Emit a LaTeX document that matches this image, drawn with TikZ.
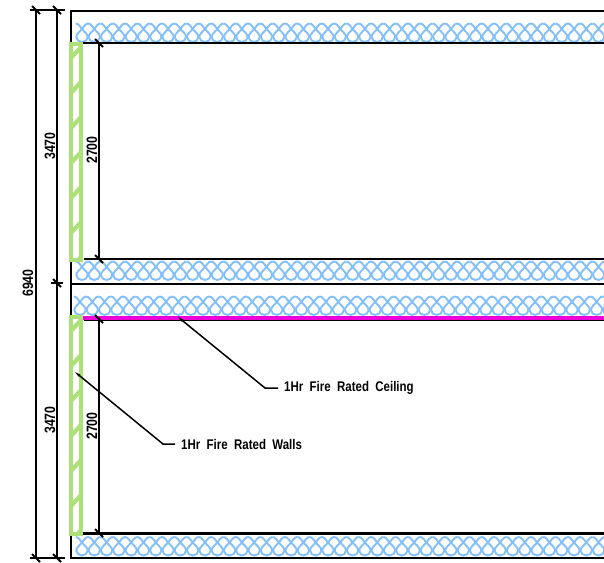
\documentclass[tikz,border=0pt]{standalone}
\usepackage{fontspec}
\setmainfont[FakeStretch=0.82]{Liberation Sans}
\usetikzlibrary{arrows.meta}

\definecolor{wallgreen}{HTML}{AEE07A}
\definecolor{insulblue}{HTML}{82BFFB}
\definecolor{ceilpink}{HTML}{F000D8}

\tikzset{
    frame/.style={black, line width=2pt},
    dimline/.style={black, line width=1.5pt},
    insul/.style={insulblue, line width=1.9pt},
    wall/.style={wallgreen, line width=4.8pt},
    brace/.style={wallgreen, line width=4.2pt},
    dimtext/.style={rotate=90, font=\fontsize{15}{15}\selectfont\bfseries},
    calltext/.style={anchor=west, font=\fontsize{14}{15}\selectfont\bfseries, inner sep=0pt},
    leader/.style={{Stealth[length=6pt,width=2.6pt]}-, black, line width=1.5pt}
}

% one band of insulation, first argument is its top edge
\newcommand{\insulband}[2]{
    \foreach \i in {0,...,43} {
        \draw[insul, shift={(#2+\i*12.3,#1)}]
            (-6.15,0) .. controls (-3.5,0) and (-1.5,3.5) .. (0,5.5)
            .. controls (2,8) and (5.7,10.5) .. (5.7,13.5)
            .. controls (5.7,16.3) and (3,18.5) .. (0,18.5)
            .. controls (-3,18.5) and (-5.7,16.3) .. (-5.7,13.5)
            .. controls (-5.7,10.5) and (-2,8) .. (0,5.5)
            .. controls (1.5,3.5) and (3.5,0) .. (6.15,0);
    }
}

% one stud wall, first argument is its top edge
\newcommand{\studwall}[2]{
    \begin{scope}
        \clip (71,#1) rectangle (81,#2);
        \foreach \i in {0,...,6} {
            \draw[brace] (71,#1+14+\i*35) -- (81,#1+3+\i*35);
        }
    \end{scope}
    \draw[wall] (71,#1) rectangle (81,#2);
}

% tick on a dimension line
\newcommand{\dimtick}[1]{
    \draw[black, line width=1.9pt] ([shift={(-4,-4)}]#1) -- ([shift={(4,4)}]#1);
}

\begin{document}
\begin{tikzpicture}[x=1pt, y=-1pt]
    \useasboundingbox (0,0) rectangle (604,562);
    %\draw[gray, dashed] (0,0) grid (604,562);

    \insulband{23.5}{82}
    \insulband{261.5}{82}
    \insulband{296.5}{80}
    \insulband{537}{82}

    \draw[frame] (604,10.5) -- (70.5,10.5) -- (70.5,43) -- (604,43);
    \draw[frame] (84,259) -- (604,259);
    \draw[frame] (70.5,260) -- (70.5,316);
    \draw[frame] (70.5,283.5) -- (604,283.5);
    \draw[ceilpink, line width=3.6pt] (81,317.8) -- (604,317.8);
    \draw[black, line width=1pt] (84,320.1) -- (604,320.1);
    \draw[black, line width=2.6pt] (83,533.5) -- (604,533.5);
    \draw[frame] (70.5,535) -- (70.5,558) -- (604,558);

    \studwall{44}{260}
    \studwall{317}{534}

    % outer dimensions
    \coordinate (totaltop) at (36,10);
    \coordinate (totalbot) at (36,558);
    \coordinate (uppertop) at (57,10);
    \coordinate (uppermid) at (57,283);
    \coordinate (upperbot) at (57,558);
    \draw[dimline] (totaltop) -- (totalbot);
    \draw[dimline] (uppertop) -- (upperbot);
    \draw[dimline] (30,10) -- (65,10);
    \draw[dimline] (51,283) -- (63,283);
    \draw[dimline] (30,558) -- (65,558);
    \dimtick{totaltop}
    \dimtick{totalbot}
    \dimtick{uppertop}
    \dimtick{uppermid}
    \dimtick{upperbot}

    % inner dimensions
    \coordinate (roomatop) at (99,43);
    \coordinate (roomabot) at (99,259);
    \coordinate (roombtop) at (99,319);
    \coordinate (roombbot) at (99,533);
    \draw[dimline] (roomatop) -- (roomabot);
    \draw[dimline] (roombtop) -- (roombbot);
    \dimtick{roomatop}
    \dimtick{roomabot}
    \dimtick{roombtop}
    \dimtick{roombbot}

    \node[dimtext] (dimtotal) at (28,283) {6940};
    \node[dimtext] (dimupper) at (50,146) {3470};
    \node[dimtext] (dimlower) at (50,420) {3470};
    \node[dimtext] (dimrooma) at (92,150) {2700};
    \node[dimtext] (dimroomb) at (92,426) {2700};

    % call outs
    \node[calltext] (ceiltext) at (284,388) {1Hr\ \ Fire\ \ Rated\ \ Ceiling};
    \node[calltext] (walltext) at (181,444) {1Hr\ \ Fire\ \ Rated\ \ Walls};
    \coordinate (ceiltip) at (178,317);
    \coordinate (ceilknee) at (265,388);
    \coordinate (ceilend) at (278,388);
    \coordinate (walltip) at (75,372);
    \coordinate (wallknee) at (163,444);
    \coordinate (wallend) at (175,444);
    \draw[leader] (ceiltip) -- (ceilknee) -- (ceilend);
    \draw[leader] (walltip) -- (wallknee) -- (wallend);
\end{tikzpicture}
\end{document}
